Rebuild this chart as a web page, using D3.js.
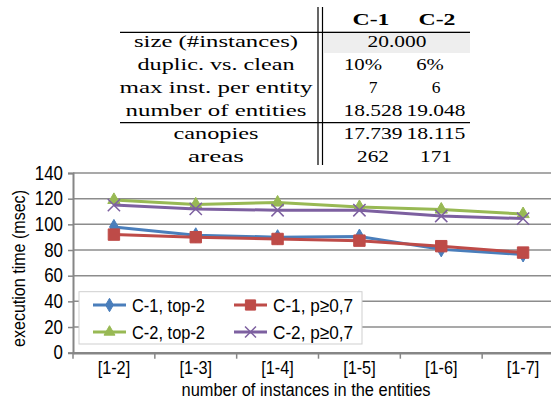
<html>
  <head>
    <script src="https://d3js.org/d3.v7.min.js"></script>
    <style>
      body { margin: 0; background: white; }
    </style>
  </head>
  <body>
    <script>
      // table data
      var tableHeader = ["C-1", "C-2"]
      var rowLabels = ["size (#instances)", "duplic. vs. clean", "max inst. per entity", "number of entities", "canopies", "areas"]
      var colC1 = ["20.000", "10%", "7", "18.528", "17.739", "262"]
      var colC2 = ["", "6%", "6", "19.048", "18.115", "171"]

      // chart data
      var categories = ["[1-2]", "[1-3]", "[1-4]", "[1-5]", "[1-6]", "[1-7]"]
      var c1Top2 = [98, 91.5, 90, 90.5, 80.5, 76.5]
      var c1P07 = [92, 90, 88.6, 87.3, 83, 78]
      var c2Top2 = [119, 115.5, 117, 113.5, 111.5, 108]
      var c2P07 = [115, 112, 111, 111, 106.5, 104.5]
      var yTicks = [0, 20, 40, 60, 80, 100, 120, 140]

      var width = 551
      var height = 399

      var svg = d3.select("body").append("svg")
        .attr("width", width)
        .attr("height", height)

      // squeeze / stretch a text to a given width (the original fonts are not installed)
      function fit(sel, w) {
        sel.attr("textLength", w).attr("lengthAdjust", "spacingAndGlyphs")
      }

      // ---- table ----
      var serif = "'Liberation Serif', 'DejaVu Serif', serif"
      var col1x = 373, col2x = 436, labx = 216
      var rowY = [46.7, 70, 93, 116, 138.5, 161.5]
      var labW = [164, 157, 193, 181, 85, 56]

      svg.append("rect")
        .attr("x", 324).attr("y", 31)
        .attr("width", 146).attr("height", 22)
        .attr("fill", "#eeeeee")

      svg.selectAll(".hdr").data(tableHeader).enter().append("text")
        .attr("x", (d, i) => i == 0 ? 371 : 437)
        .attr("y", 24.5)
        .attr("text-anchor", "middle")
        .style("font-family", serif)
        .style("font-weight", "bold")
        .style("font-size", "17.5px")
        .text(d => d)
        .call(fit, 37)

      svg.selectAll(".rl").data(rowLabels).enter().append("text")
        .attr("x", labx)
        .attr("y", (d, i) => rowY[i])
        .attr("text-anchor", "middle")
        .style("font-family", serif)
        .style("font-size", "17.5px")
        .text(d => d)
        .each(function(d, i) { fit(d3.select(this), labW[i]) })

      function numW(d) {
        // width of a cell value as it appears in the picture
        return d.replace(/[^0-9]/g, "").length * 10.6 + (d.indexOf(".") >= 0 ? 6 : 0) + (d.indexOf("%") >= 0 ? 17 : 0)
      }

      svg.selectAll(".c1").data(colC1).enter().append("text")
        .attr("x", (d, i) => i == 0 ? 397 : (i == 1 ? 363 : col1x))
        .attr("y", (d, i) => rowY[i])
        .attr("text-anchor", "middle")
        .style("font-family", serif)
        .style("font-size", "17.5px")
        .text(d => d)
        .each(function(d) { if (d.length > 1) fit(d3.select(this), numW(d)) })

      svg.selectAll(".c2").data(colC2).enter().append("text")
        .attr("x", (d, i) => i == 1 ? 430 : col2x)
        .attr("y", (d, i) => rowY[i])
        .attr("text-anchor", "middle")
        .style("font-family", serif)
        .style("font-size", "17.5px")
        .text(d => d)
        .each(function(d) { if (d.length > 1) fit(d3.select(this), numW(d)) })

      // rules
      svg.append("line").attr("x1", 120).attr("x2", 470).attr("y1", 32.3).attr("y2", 32.3)
        .style("stroke", "black").style("stroke-width", 1.2)
      svg.append("line").attr("x1", 120).attr("x2", 470).attr("y1", 122.7).attr("y2", 122.7)
        .style("stroke", "black").style("stroke-width", 1.2)
      svg.append("line").attr("x1", 318).attr("x2", 318).attr("y1", 7).attr("y2", 165)
        .style("stroke", "black").style("stroke-width", 1.2)
      svg.append("line").attr("x1", 322.5).attr("x2", 322.5).attr("y1", 7).attr("y2", 165)
        .style("stroke", "black").style("stroke-width", 1.2)

      // ---- chart ----
      var sans = "'Liberation Sans', Arial, sans-serif"
      var x = d3.scaleBand().domain(categories).range([73, 564])
      var y = d3.scaleLinear().domain([0, 140]).range([352.7, 173])

      // gridlines
      svg.selectAll(".grid").data(yTicks.slice(1)).enter().append("line")
        .attr("x1", 73).attr("x2", 564)
        .attr("y1", d => y(d)).attr("y2", d => y(d))
        .style("stroke", "#8c8c8c").style("stroke-width", 1.5)

      // y axis
      var yAxis = svg.append("g").attr("transform", "translate(73,0)")
        .call(d3.axisLeft(y).tickValues(yTicks).tickSize(5).tickPadding(5))
      yAxis.select(".domain").style("stroke", "#868686").style("stroke-width", 2)
      yAxis.selectAll(".tick line").style("stroke", "#868686").style("stroke-width", 1.5)
      yAxis.selectAll("text").style("font-family", sans).style("font-size", "19.5px").attr("fill", "black")
        .each(function(d) { fit(d3.select(this), String(d).length * 9.4) })

      // x axis
      var xAxis = svg.append("g").attr("transform", "translate(0," + y(0) + ")")
        .call(d3.axisBottom(x).tickSize(0).tickPadding(8))
      xAxis.select(".domain").style("stroke", "#868686").style("stroke-width", 2.5)
      xAxis.selectAll("text").style("font-family", sans).style("font-size", "18.5px").attr("fill", "black")
        .call(fit, 32.5)
      svg.selectAll(".xt").data(categories).enter().append("line")
        .attr("x1", d => x(d)).attr("x2", d => x(d))
        .attr("y1", y(0)).attr("y2", y(0) + 6)
        .style("stroke", "#868686").style("stroke-width", 1.5)

      // axis titles
      svg.append("text")
        .attr("x", 306).attr("y", 395.5)
        .attr("text-anchor", "middle")
        .style("font-family", sans).style("font-size", "17.5px")
        .text("number of instances in the entities")
        .call(fit, 249)
      svg.append("text")
        .attr("transform", "translate(24.5,268.5) rotate(-90)")
        .attr("text-anchor", "middle")
        .style("font-family", sans).style("font-size", "18px")
        .text("execution time (msec)")
        .call(fit, 157)

      // series
      var series = [
        { name: "C-1, top-2", values: c1Top2, color: "#4a7ebb", sym: d3.symbolDiamond, size: 65 },
        { name: "C-2, top-2", values: c2Top2, color: "#98b954", sym: d3.symbolTriangle, size: 65 },
        { name: "C-1, p\u22650,7", values: c1P07, color: "#be4b48", sym: d3.symbolSquare, size: 130 },
        { name: "C-2, p\u22650,7", values: c2P07, color: "#7d60a0", sym: d3.symbolX, size: 100 }
      ]
      var drawOrder = [series[1], series[3], series[0], series[2]]
      var line = d3.line()
        .x((d, i) => x(categories[i]) + x.bandwidth() / 2)
        .y(d => y(d))

      drawOrder.forEach(function(s) {
        svg.append("path")
          .attr("d", line(s.values))
          .style("fill", "none")
          .style("stroke", s.color)
          .style("stroke-width", 3)
        svg.selectAll(null).data(s.values).enter().append("path")
          .attr("transform", (d, i) => "translate(" + (x(categories[i]) + x.bandwidth() / 2) + "," + y(d) + ")")
          .attr("d", d3.symbol().type(s.sym).size(s.size))
          .style("fill", s.color)
          .style("stroke", s.color)
          .style("stroke-width", s.sym == d3.symbolX ? 1.5 : 1)
      })

      // legend
      svg.append("rect")
        .attr("x", 79).attr("y", 291.7)
        .attr("width", 283).attr("height", 52.3)
        .style("fill", "white").style("stroke", "#cfcfcf").style("stroke-width", 1)

      var legPos = [[93, 305], [93, 332], [234, 305], [234, 332]]
      series.forEach(function(s, i) {
        var lx = legPos[i][0], ly = legPos[i][1]
        svg.append("line")
          .attr("x1", lx).attr("x2", lx + 33)
          .attr("y1", ly).attr("y2", ly)
          .style("stroke", s.color).style("stroke-width", 3)
        svg.append("path")
          .attr("transform", "translate(" + (lx + 16.5) + "," + ly + ")")
          .attr("d", d3.symbol().type(s.sym).size(s.size * 0.8))
          .style("fill", s.color)
          .style("stroke", s.color)
          .style("stroke-width", s.sym == d3.symbolX ? 1.5 : 1)
        svg.append("text")
          .attr("x", lx + 39).attr("y", ly + 6.8)
          .style("font-family", sans).style("font-size", "19px")
          .text(s.name)
          .call(fit, i < 2 ? 73 : 80)
      })
    </script>
  </body>
</html>
